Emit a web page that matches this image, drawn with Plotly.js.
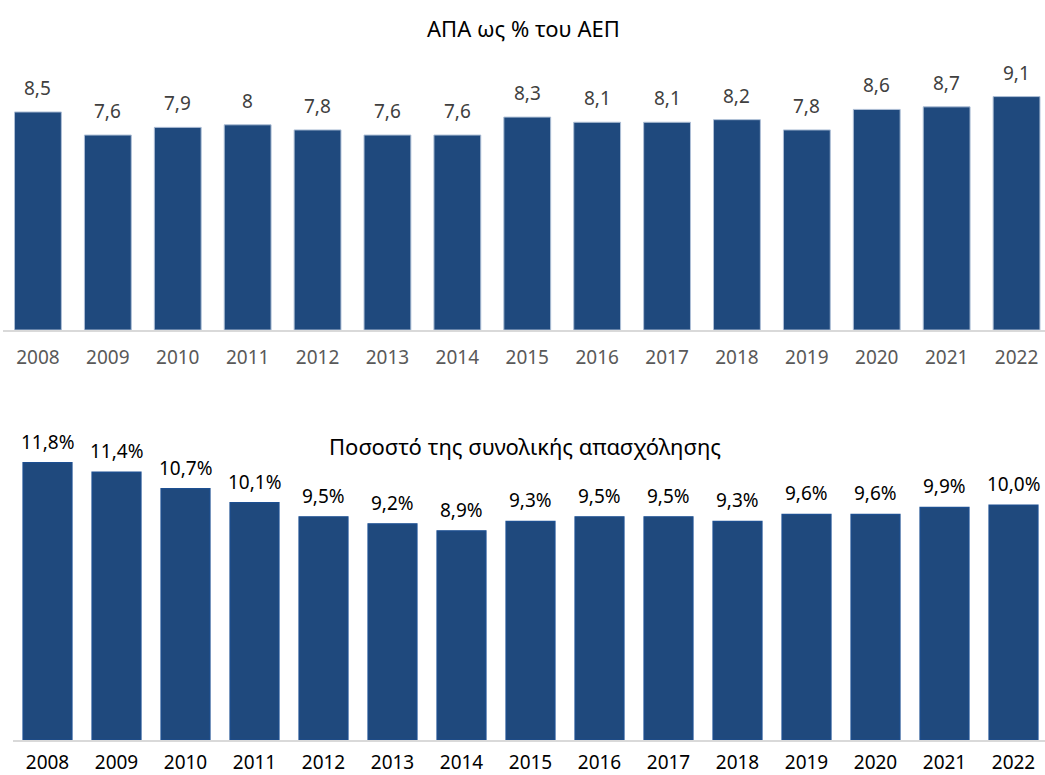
<!DOCTYPE html>
<html>
<head>
<meta charset="utf-8">
<script src="https://cdn.plot.ly/plotly-3.0.1.min.js"></script>
<style>html,body{margin:0;padding:0;background:#fff;}#chart{width:1045px;height:775px;}</style>
</head>
<body>
<div id="chart"></div>
<script>
const years = ["2008","2009","2010","2011","2012","2013","2014","2015","2016","2017","2018","2019","2020","2021","2022"];
const gdpShare = [8.5,7.6,7.9,8.0,7.8,7.6,7.6,8.3,8.1,8.1,8.2,7.8,8.6,8.7,9.1];
const employmentShare = [11.8,11.4,10.7,10.1,9.5,9.2,8.9,9.3,9.5,9.5,9.3,9.6,9.6,9.9,10.0];
const topTitle = "ΑΠΑ ως % του ΑΕΠ";
const bottomTitle = "Ποσοστό της συνολικής απασχόλησης";

const W = 1045, H = 775;
const FONT = "Noto Sans, Open Sans, DejaVu Sans, sans-serif";
const BAR = "#1f497d";

const fmtTop = v => String(v).replace('.', ',');
const fmtBot = v => v.toFixed(1).replace('.', ',') + '%';

const traces = [
  {type:'bar', x: years, y: gdpShare, xaxis:'x', yaxis:'y',
   marker:{color:BAR, line:{color:'#aebfd6', width:1}}, hoverinfo:'x+y'},
  {type:'bar', x: years, y: employmentShare, xaxis:'x2', yaxis:'y2', width: 0.71,
   marker:{color:BAR, line:{color:'#1d4f91', width:1.2}}, hoverinfo:'x+y'}
];

const annotations = [];
years.forEach((yr, i) => {
  annotations.push({xref:'x', yref:'y', x: i, y: gdpShare[i], text: fmtTop(gdpShare[i]),
    showarrow:false, xanchor:'center', yanchor:'middle', yshift:24, font:{family:FONT, size:19, color:'#404040'}});
  annotations.push({xref:'x2', yref:'y2', x: i, y: employmentShare[i], text: fmtBot(employmentShare[i]),
    showarrow:false, xanchor:'center', yanchor:'middle', yshift:21, font:{family:FONT, size:19, color:'#000000'}});
});
annotations.push({xref:'paper', yref:'paper', x: 523/W, y: 1 - 28/H, xanchor:'center', yanchor:'middle',
  text: topTitle, showarrow:false, font:{family:FONT, size:22, color:'#000000'}});
annotations.push({xref:'paper', yref:'paper', x: 525/W, y: 1 - 446/H, xanchor:'center', yanchor:'middle',
  text: bottomTitle, showarrow:false, font:{family:FONT, size:22, color:'#000000'}});

// pixel geometry
const topBase = 330, topPxPerUnit = 25.65, topTopPx = 45;
const botBase = 740, botPxPerUnit = 23.5, botTopPx = 440;

const layout = {
  width: W, height: H,
  margin:{l:0, r:0, t:0, b:0},
  paper_bgcolor:'#ffffff', plot_bgcolor:'#ffffff',
  showlegend:false,
  bargap: 0.33,
  font:{family:FONT},
  xaxis:{domain:[3/W, 1], anchor:'y', type:'category', range:[-0.5, -0.5 + (W-3)/69.9],
    showgrid:false, zeroline:false, showline:true, linecolor:'#d9d9d9', linewidth:1.5,
    ticks:'', ticklabelstandoff:10, tickfont:{family:FONT, size:19, color:'#595959'}},
  yaxis:{domain:[(H-topBase)/H, (H-topTopPx)/H], anchor:'x', range:[0, (topBase-topTopPx)/topPxPerUnit],
    visible:false, showgrid:false, zeroline:false},
  xaxis2:{domain:[13/W, 1], anchor:'y2', type:'category', range:[-0.5, -0.5 + (W-13)/69],
    showgrid:false, zeroline:false, showline:true, linecolor:'#d9d9d9', linewidth:1.5,
    ticks:'', ticklabelstandoff:5, tickfont:{family:FONT, size:19, color:'#000000'}},
  yaxis2:{domain:[(H-botBase)/H, (H-botTopPx)/H], anchor:'x2', range:[0, (botBase-botTopPx)/botPxPerUnit],
    visible:false, showgrid:false, zeroline:false},
  annotations: annotations
};

Plotly.newPlot('chart', traces, layout, {displayModeBar:false, staticPlot:true});
</script>
</body>
</html>
